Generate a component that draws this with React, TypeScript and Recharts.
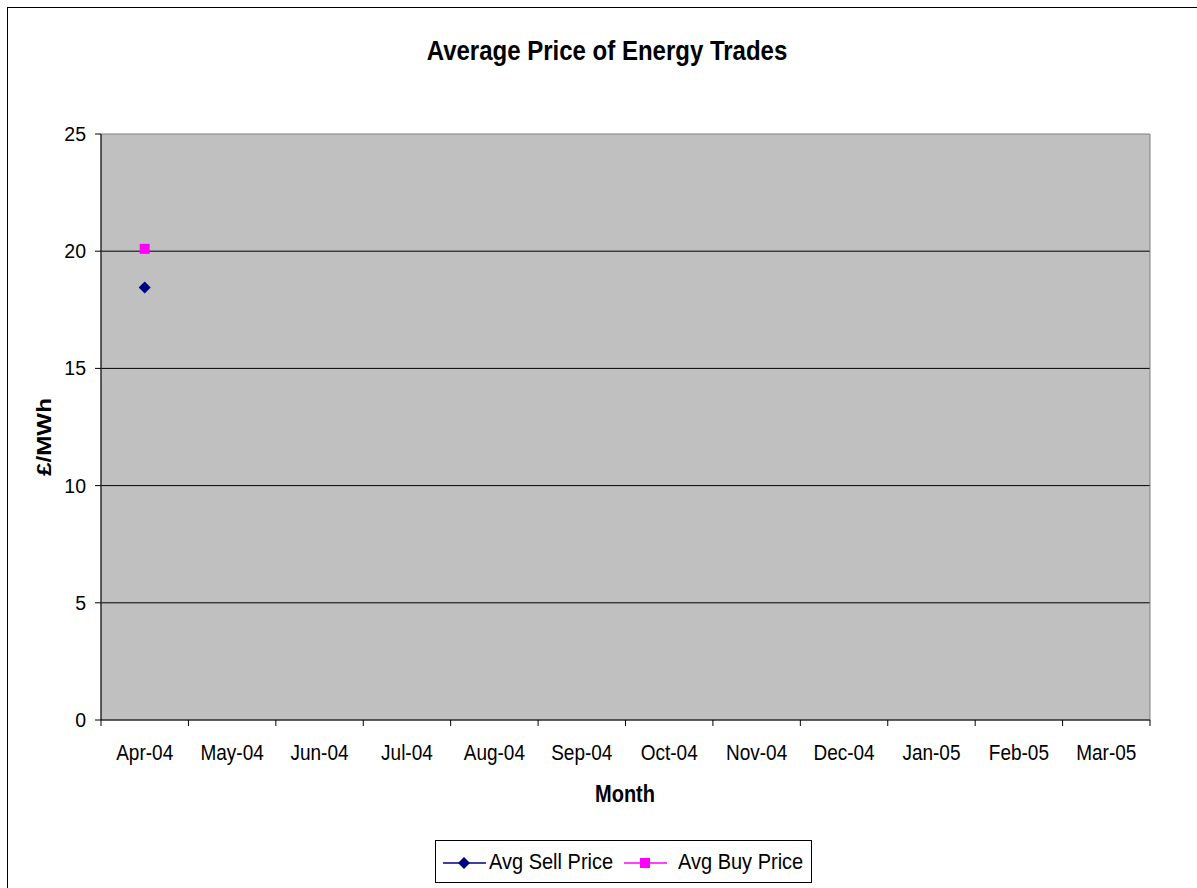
import React from 'react';
import { LineChart, Line, XAxis, YAxis, CartesianGrid, ReferenceArea } from 'recharts';

const months = ['Apr-04', 'May-04', 'Jun-04', 'Jul-04', 'Aug-04', 'Sep-04', 'Oct-04', 'Nov-04', 'Dec-04', 'Jan-05', 'Feb-05', 'Mar-05'];
const sellPrice: (number | null)[] = [18.45, null, null, null, null, null, null, null, null, null, null, null];
const buyPrice: (number | null)[] = [20.1, null, null, null, null, null, null, null, null, null, null, null];
const yTicks = [0, 5, 10, 15, 20, 25];

const data = months.map((month, i) => ({ month, sell: sellPrice[i], buy: buyPrice[i] }));

const FONT = '"Liberation Sans", Arial, sans-serif';
const PLOT_LEFT = 101;
const PLOT_RIGHT = 1150;
const BAND = (PLOT_RIGHT - PLOT_LEFT) / months.length;
// the original export is a little taller than wide, text included
const STRETCH = 1.15;

// Excel style: tick marks sit between categories, labels at centres
const MonthTick = (props: any) => {
  const { x, y, payload, index } = props;
  const top = y - 8;
  return (
    <g>
      <line x1={x - BAND / 2} y1={top} x2={x - BAND / 2} y2={top + 6} stroke="#000" />
      {index === months.length - 1 && (
        <line x1={x + BAND / 2} y1={top} x2={x + BAND / 2} y2={top + 6} stroke="#000" />
      )}
      <text
        transform={`translate(${x},${y + 32}) scale(1,${STRETCH})`}
        textAnchor="middle"
        fontSize={19}
        fontFamily={FONT}
        fill="#000"
      >
        {payload.value}
      </text>
    </g>
  );
};

const Diamond = (props: any) => {
  const { cx, cy } = props;
  if (cx == null || cy == null || props.value == null) return null;
  return <path d={`M${cx},${cy - 6} L${cx + 6},${cy} L${cx},${cy + 6} L${cx - 6},${cy} Z`} fill="#000080" />;
};

const Square = (props: any) => {
  const { cx, cy } = props;
  if (cx == null || cy == null || props.value == null) return null;
  return <rect x={cx - 5} y={cy - 5} width={10} height={10} fill="#ff00ff" />;
};

const textBox = (extra: React.CSSProperties): React.CSSProperties => ({
  position: 'absolute', fontFamily: FONT, color: '#000', whiteSpace: 'nowrap', ...extra,
});

const LegendBox = () => (
  <div
    style={{
      position: 'absolute', left: 435, top: 840, width: 377, height: 43,
      border: '1px solid #000', boxSizing: 'border-box', background: '#fff',
    }}
  >
    <svg width={44} height={14} style={{ position: 'absolute', left: 7, top: 15 }}>
      <line x1={0} y1={7} x2={43} y2={7} stroke="#000080" strokeWidth={1.5} />
      <path d="M21,1 L27,7 L21,13 L15,7 Z" fill="#000080" />
    </svg>
    <div style={textBox({ left: 53, top: 8, fontSize: 20, lineHeight: '24px', transform: 'scaleY(1.1)' })}>Avg Sell Price</div>
    <svg width={44} height={14} style={{ position: 'absolute', left: 188, top: 15 }}>
      <line x1={0} y1={7} x2={43} y2={7} stroke="#ff00ff" strokeWidth={1.5} />
      <rect x={16} y={2} width={10} height={10} fill="#ff00ff" />
    </svg>
    <div style={textBox({ left: 242, top: 8, fontSize: 20, lineHeight: '24px', transform: 'scaleY(1.1)' })}>Avg Buy Price</div>
  </div>
);

const App: React.FC = () => {
  return (
    <div style={{ position: 'absolute', left: 0, top: 0, width: 1197, height: 888, overflow: 'hidden', background: '#fff' }}>
      <div style={{ position: 'absolute', left: 7, top: 7, width: 1210, height: 900, border: '1px solid #000' }} />
      <div
        style={textBox({
          left: 307, top: 36, width: 600, textAlign: 'center', lineHeight: '30px',
          fontSize: 24, fontWeight: 'bold', transform: `scaleY(${STRETCH + 0.01})`,
        })}
      >
        Average Price of Energy Trades
      </div>
      <div style={{ position: 'absolute', left: 0, top: 0 }}>
        <LineChart width={1197} height={888} data={data} margin={{ top: 134, right: 1197 - PLOT_RIGHT, bottom: 0, left: 0 }}>
          <CartesianGrid vertical={false} stroke="#000" fill="#c0c0c0" fillOpacity={1} horizontalValues={[5, 10, 15, 20]} />
          <ReferenceArea y1={0} y2={25} fill="none" stroke="#808080" strokeWidth={1} />
          <XAxis
            dataKey="month"
            scale="band"
            axisLine={{ stroke: '#000' }}
            tickLine={false}
            tick={<MonthTick />}
            interval={0}
            height={168}
          />
          <YAxis
            domain={[0, 25]}
            ticks={yTicks}
            width={PLOT_LEFT}
            axisLine={{ stroke: '#000' }}
            tickLine={{ stroke: '#000' }}
            tickSize={6}
            tickMargin={9}
            tick={{ fontFamily: FONT, fontSize: 19.5, fill: '#000' }}
          />
          <Line dataKey="sell" stroke="#000080" strokeWidth={1.5} dot={<Diamond />} activeDot={false} isAnimationActive={false} />
          <Line dataKey="buy" stroke="#ff00ff" strokeWidth={1.5} dot={<Square />} activeDot={false} isAnimationActive={false} />
        </LineChart>
      </div>
      <div
        style={textBox({
          left: 575, top: 782, width: 100, textAlign: 'center', lineHeight: '24px',
          fontSize: 20, fontWeight: 'bold', transform: 'scaleY(1.18)',
        })}
      >
        Month
      </div>
      <div style={{ position: 'absolute', left: 44, top: 437, width: 0, height: 0 }}>
        <div
          style={textBox({
            left: -60, top: -12, width: 120, textAlign: 'center', lineHeight: '24px',
            transform: `rotate(-90deg) scaleX(${STRETCH})`, fontSize: 21, fontWeight: 'bold',
          })}
        >
          £/MWh
        </div>
      </div>
      <LegendBox />
    </div>
  );
};

export default App;
